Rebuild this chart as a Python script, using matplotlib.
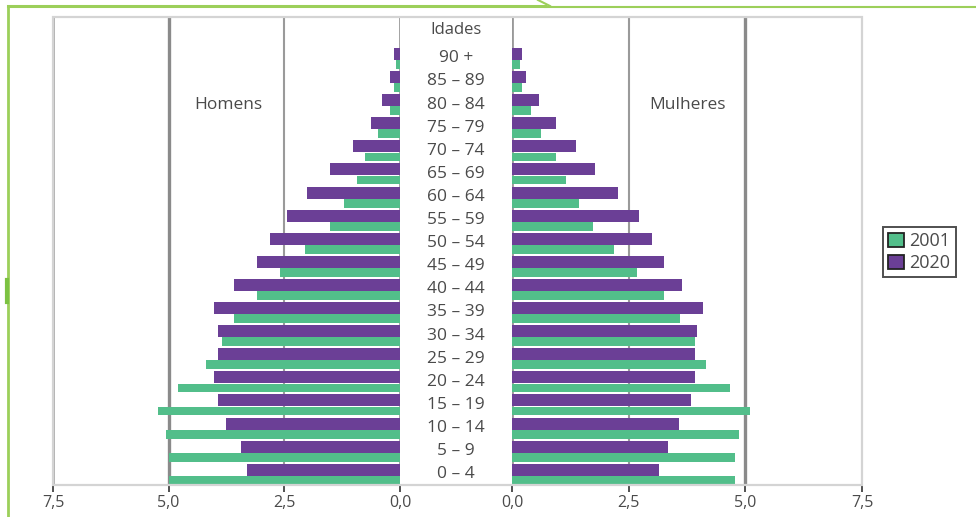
import matplotlib
matplotlib.use("Agg")
import matplotlib.pyplot as plt
import matplotlib.transforms as mtransforms
from matplotlib.patches import Rectangle, Patch
from matplotlib.lines import Line2D
import numpy as np

plt.rcParams['font.family'] = ['Open Sans', 'DejaVu Sans']

age_groups = ["0 – 4", "5 – 9", "10 – 14", "15 – 19", "20 – 24", "25 – 29", "30 – 34",
              "35 – 39", "40 – 44", "45 – 49", "50 – 54", "55 – 59", "60 – 64", "65 – 69",
              "70 – 74", "75 – 79", "80 – 84", "85 – 89", "90 +"]

men_2001 = [5.0, 5.0, 5.05, 5.23, 4.79, 4.20, 3.84, 3.58, 3.08, 2.59, 2.06, 1.51, 1.20,
            0.93, 0.75, 0.48, 0.21, 0.12, 0.08]
men_2020 = [3.31, 3.44, 3.76, 3.93, 4.03, 3.93, 3.93, 4.03, 3.58, 3.08, 2.81, 2.45, 2.01,
            1.51, 1.02, 0.62, 0.39, 0.21, 0.13]
women_2001 = [4.77, 4.77, 4.86, 5.09, 4.68, 4.15, 3.93, 3.61, 3.25, 2.67, 2.18, 1.74, 1.43,
              1.16, 0.94, 0.62, 0.40, 0.22, 0.18]
women_2020 = [3.16, 3.35, 3.57, 3.84, 3.93, 3.93, 3.97, 4.10, 3.65, 3.25, 2.99, 2.72, 2.27,
              1.78, 1.38, 0.94, 0.58, 0.31, 0.22]

series_labels = ["2001", "2020"]
xticks = [0.0, 2.5, 5.0, 7.5]
xtick_labels = ["0,0", "2,5", "5,0", "7,5"]

GREEN = "#52be8a"
PURPLE = "#6b3f96"
TXT = "#4a4a4a"

W, H = 976, 517
fig = plt.figure(figsize=(W / 100, H / 100), dpi=100)
fig.patch.set_facecolor("white")

def fx(px):
    return px / W

def fy(py):
    return 1 - py / H

top_px, bot_px = 17, 485
axL = fig.add_axes([fx(53), fy(bot_px), fx(400) - fx(53), fy(top_px) - fy(bot_px)])
axR = fig.add_axes([fx(512), fy(bot_px), fx(862) - fx(512), fy(top_px) - fy(bot_px)])

# frame around whole chart
fig.patches.append(Rectangle((fx(53), fy(bot_px)), fx(862) - fx(53), fy(top_px) - fy(bot_px),
                             transform=fig.transFigure, fill=False, edgecolor="#d4d4d4",
                             linewidth=1.6, zorder=0))

y = np.arange(len(age_groups))
h_green = 0.38
h_purple = 0.52
y_green = y + h_green / 2 + 0.01
y_purple = y + h_green + 0.02 + h_purple / 2
ylim_top = (bot_px - top_px) / 23.1

for ax, v01, v20, side in [(axL, men_2001, men_2020, "L"), (axR, women_2001, women_2020, "R")]:
    ax.barh(y_green, v01, height=h_green, color=GREEN, edgecolor="none", zorder=3)
    ax.barh(y_purple, v20, height=h_purple, color=PURPLE, edgecolor="none", zorder=3)
    ax.set_ylim(0, ylim_top)
    ax.set_xlim(0, 7.5)
    if side == "L":
        ax.invert_xaxis()
    ax.set_yticks([])
    ax.set_xticks(xticks)
    ax.set_xticklabels(xtick_labels, fontsize=11.5, color=TXT)
    ax.tick_params(axis="x", direction="out", length=5, width=1.2, color="#333333", pad=2)
    for s in ["top", "left", "right"]:
        ax.spines[s].set_visible(False)
    ax.spines["bottom"].set_color("#555555")
    ax.spines["bottom"].set_linewidth(1.3)
    ax.patch.set_alpha(0)
    for xv in xticks:
        if xv == 5.0:
            lw, col = 2.4, "#8a8a8a"
        elif xv == 0.0:
            lw, col = 2.0, "#999999"
        elif xv == 7.5:
            lw, col = (1.8, "#9a9a9a") if side == "L" else (1.8, "#c8c8c8")
        else:
            lw, col = 1.5, "#9a9a9a"
        ax.axvline(xv, color=col, linewidth=lw, zorder=1)

# centre labels
trans = mtransforms.blended_transform_factory(fig.transFigure, axL.transData)
cx = fx(456)
for i, lab in enumerate(age_groups):
    fig.text(cx, i + 0.47, lab, transform=trans, ha="center", va="center",
             fontsize=12.5, color=TXT)
fig.text(cx, (bot_px - 30) / 23.1, "Idades", transform=trans, ha="center", va="center",
         fontsize=12, color=TXT)

label_y = (bot_px - 105) / 23.1
axL.text(3.72, label_y, "Homens", ha="center", va="center", fontsize=12.5, color=TXT)
axR.text(3.77, label_y, "Mulheres", ha="center", va="center", fontsize=12.5, color=TXT)

# legend
handles = [Patch(facecolor=GREEN, edgecolor="#222222", linewidth=1.3, label=series_labels[0]),
           Patch(facecolor=PURPLE, edgecolor="#222222", linewidth=1.3, label=series_labels[1])]
leg = fig.legend(handles=handles, loc="upper left",
                 bbox_to_anchor=(fx(883), fy(227)), bbox_transform=fig.transFigure,
                 fontsize=13, frameon=True, fancybox=False, handlelength=0.85,
                 handleheight=0.85, handletextpad=0.3, borderpad=0.3, labelspacing=0.2,
                 borderaxespad=0)
leg.get_frame().set_edgecolor("#222222")
leg.get_frame().set_linewidth(1.4)
for t in leg.get_texts():
    t.set_color(TXT)

# decorative green border lines
LG = "#9ccf5a"
fig.add_artist(Line2D([fx(8), fx(545)], [fy(6), fy(6)], color=LG, linewidth=2.2,
                      transform=fig.transFigure))
fig.add_artist(Line2D([fx(545), fx(976)], [fy(6.5), fy(6.5)], color=LG, linewidth=1.5,
                      transform=fig.transFigure))
fig.add_artist(Line2D([fx(538), fx(550)], [fy(0), fy(6)], color=LG, linewidth=1.5,
                      transform=fig.transFigure))
fig.add_artist(Line2D([fx(8), fx(8)], [fy(6), fy(517)], color=LG, linewidth=2.0,
                      transform=fig.transFigure))
fig.add_artist(Line2D([fx(7), fx(7)], [fy(280), fy(302)], color="#7cc242", linewidth=3.0,
                      transform=fig.transFigure))

fig.savefig("out.png", dpi=100, facecolor="white")
